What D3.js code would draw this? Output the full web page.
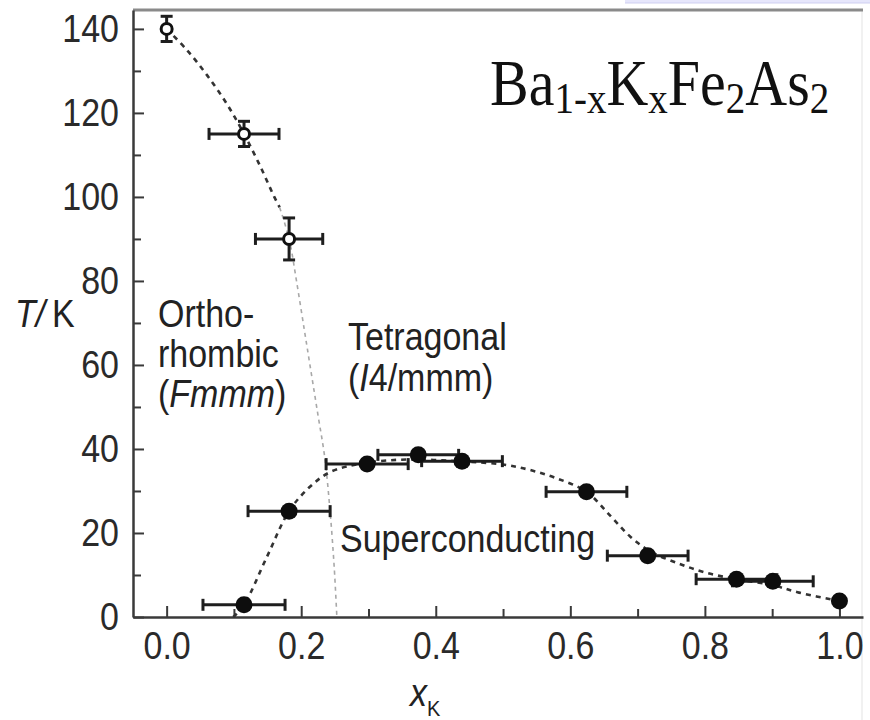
<!DOCTYPE html>
<html>
<head>
<meta charset="utf-8">
<script src="https://cdn.jsdelivr.net/npm/d3@7"></script>
<style>
  body { margin: 0; background: #fff; }
  svg { display: block; }
</style>
</head>
<body>
<script>
// axis ticks
const xTicks = [0, 0.2, 0.4, 0.6, 0.8, 1.0];
const xMinorTicks = [0.1, 0.3, 0.5, 0.7, 0.9];
const yTicks = [0, 20, 40, 60, 80, 100, 120, 140];
const yMinorTicks = [10, 30, 50, 70, 90, 110, 130];

// structural transition (open circles)
const structX = [0, 0.115, 0.182];
const structT = [140, 115, 90];
const structXErr = [0, 0.052, 0.05];
const structTErr = [3, 3, 5];

// superconducting Tc (filled circles)
const scX = [0.115, 0.182, 0.298, 0.374, 0.439, 0.624, 0.715, 0.847, 0.901, 1.0];
const scT = [2.9, 25.2, 36.4, 38.6, 37.1, 29.8, 14.6, 9.0, 8.5, 3.8];
const scXErr = [0.061, 0.061, 0.061, 0.06, 0.06, 0.06, 0.06, 0.06, 0.06, 0];

// dashed guide lines
const upperLineX = [0, 0.03, 0.06, 0.09, 0.115, 0.14, 0.16, 0.168];
const upperLineT = [140, 135, 129, 122, 115, 107, 100, 97.5];
const lowerLineX = [0.168, 0.182, 0.193, 0.205, 0.215, 0.225, 0.235, 0.243, 0.249, 0.253];
const lowerLineT = [97.5, 90, 80, 68, 58, 48, 38, 25, 12, 0];
const domeX = [0.099, 0.115, 0.149, 0.182, 0.213, 0.243, 0.292, 0.36, 0.44, 0.5, 0.54, 0.58, 0.624, 0.66, 0.69, 0.72, 0.76, 0.8, 0.847, 0.9, 0.94, 1.0];
const domeT = [0, 2.9, 14.3, 25.2, 31, 34.5, 36.6, 37.5, 37, 36.3, 35, 33, 29.8, 24, 19, 15.5, 12.8, 10.6, 9, 7.6, 5.8, 3.8];

const w = 870;
const h = 720;
const sans = '"Liberation Sans", Arial, Helvetica, sans-serif';
const serif = '"Liberation Serif", "Times New Roman", serif';
const stretch = 1.12; // the original figure is slightly stretched vertically

const svg = d3.select('body').append('svg').attr('width', w).attr('height', h);

const x = d3.scaleLinear().domain([-0.05, 1.035]).range([133, 863]);
const y = d3.scaleLinear().domain([0, 144.5]).range([617, 10]);

// bits of the screenshot frame
svg.append('rect').attr('x', 625).attr('y', 0).attr('width', 245).attr('height', 3)
  .attr('fill', '#e6e6fb');
svg.append('line').attr('x1', 625).attr('x2', 870).attr('y1', 3).attr('y2', 3)
  .attr('stroke', '#cfcff0').attr('stroke-width', 1);
svg.append('line').attr('x1', 862).attr('x2', 862).attr('y1', 10).attr('y2', h)
  .attr('stroke', '#ececec').attr('stroke-width', 1.5);

// top frame line
svg.append('line')
  .attr('x1', x(-0.05)).attr('x2', x(1.035))
  .attr('y1', y(144.5)).attr('y2', y(144.5))
  .attr('stroke', '#8a8a8a').attr('stroke-width', 3);

// axes
function styleAxis(g) {
  g.select('.domain').attr('stroke', '#3a3a3a').attr('stroke-width', 2.5);
  g.selectAll('.tick line').attr('stroke', '#3a3a3a').attr('stroke-width', 2);
  g.selectAll('text')
    .attr('font-family', sans).attr('font-size', 34).attr('fill', '#2a2a2a')
    .attr('transform', `scale(1,${stretch})`);
}

const gx = svg.append('g').attr('transform', `translate(0,${y(0)})`)
  .call(d3.axisBottom(x).tickValues(xTicks).tickFormat(d3.format('.1f'))
    .tickSizeInner(-11).tickSizeOuter(0).tickPadding(13));
styleAxis(gx);

const gxm = svg.append('g').attr('transform', `translate(0,${y(0)})`)
  .call(d3.axisBottom(x).tickValues(xMinorTicks).tickFormat('').tickSize(-8));
gxm.select('.domain').remove();
styleAxis(gxm);

const gy = svg.append('g').attr('transform', `translate(${x(-0.05)},0)`)
  .call(d3.axisLeft(y).tickValues(yTicks).tickFormat(d3.format('d'))
    .tickSizeInner(-11).tickSizeOuter(0).tickPadding(14));
styleAxis(gy);

const gym = svg.append('g').attr('transform', `translate(${x(-0.05)},0)`)
  .call(d3.axisLeft(y).tickValues(yMinorTicks).tickFormat('').tickSize(-8));
gym.select('.domain').remove();
styleAxis(gym);

// guide lines
const line = d3.line().x((d) => x(d[0])).y((d) => y(d[1])).curve(d3.curveCatmullRom);

svg.append('path')
  .datum(upperLineX.map((d, i) => [d, upperLineT[i]]))
  .attr('d', line).attr('fill', 'none')
  .attr('stroke', '#333').attr('stroke-width', 2.6).attr('stroke-dasharray', '5,5');

svg.append('path')
  .datum(lowerLineX.map((d, i) => [d, lowerLineT[i]]))
  .attr('d', line).attr('fill', 'none')
  .attr('stroke', '#a8a8a8').attr('stroke-width', 1.6).attr('stroke-dasharray', '4,4');

svg.append('path')
  .datum(domeX.map((d, i) => [d, domeT[i]]))
  .attr('d', line).attr('fill', 'none')
  .attr('stroke', '#333').attr('stroke-width', 2.6).attr('stroke-dasharray', '5,5');

// error bars
const cap = 6;
const barColor = '#1e1e1e';

function xErrorBar(xv, tv, err) {
  if (!err) return;
  const g = svg.append('g').attr('stroke', barColor).attr('stroke-width', 3);
  g.append('line').attr('x1', x(xv - err)).attr('x2', x(xv + err)).attr('y1', y(tv)).attr('y2', y(tv));
  [xv - err, xv + err].forEach((v) => {
    g.append('line').attr('x1', x(v)).attr('x2', x(v)).attr('y1', y(tv) - cap).attr('y2', y(tv) + cap);
  });
}

function yErrorBar(xv, tv, err) {
  if (!err) return;
  const g = svg.append('g').attr('stroke', barColor).attr('stroke-width', 3);
  g.append('line').attr('x1', x(xv)).attr('x2', x(xv)).attr('y1', y(tv - err)).attr('y2', y(tv + err));
  [tv - err, tv + err].forEach((v) => {
    g.append('line').attr('x1', x(xv) - cap).attr('x2', x(xv) + cap).attr('y1', y(v)).attr('y2', y(v));
  });
}

structX.forEach((d, i) => {
  xErrorBar(d, structT[i], structXErr[i]);
  yErrorBar(d, structT[i], structTErr[i]);
});
scX.forEach((d, i) => xErrorBar(d, scT[i], scXErr[i]));

// markers
svg.selectAll('.open')
  .data(structX)
  .enter()
  .append('circle')
  .attr('class', 'open')
  .attr('cx', (d) => x(d))
  .attr('cy', (d, i) => y(structT[i]))
  .attr('r', 5.5)
  .attr('fill', '#fff')
  .attr('stroke', '#111')
  .attr('stroke-width', 3);

svg.selectAll('.filled')
  .data(scX)
  .enter()
  .append('circle')
  .attr('class', 'filled')
  .attr('cx', (d) => x(d))
  .attr('cy', (d, i) => y(scT[i]))
  .attr('r', 8.5)
  .attr('fill', '#0d0d0d');

// text labels
function label(px, py, parts, family, size) {
  const t = svg.append('text')
    .attr('transform', `translate(${px},${py}) scale(1,${stretch})`)
    .attr('font-family', family)
    .attr('font-size', size)
    .attr('fill', '#222');
  parts.forEach((p) => {
    const s = t.append('tspan').text(p.t);
    if (p.i) s.attr('font-style', 'italic');
    if (p.s) s.attr('font-size', p.s);
    if (p.dy) s.attr('dy', p.dy);
  });
  return t;
}

label(490, 105, [
  { t: 'Ba' }, { t: '1-x', s: 39, dy: 7 }, { t: 'K', dy: -7 }, { t: 'x', s: 39, dy: 7 },
  { t: 'Fe', dy: -7 }, { t: '2', s: 39, dy: 7 }, { t: 'As', dy: -7 }, { t: '2', s: 39, dy: 7 },
], serif, 58).attr('fill', '#111');

label(15, 327, [{ t: 'T', i: true }, { t: '/', i: true }, { t: '\u2009K' }], sans, 34);

label(158, 327, [{ t: 'Ortho-' }], sans, 34);
label(158, 367, [{ t: 'rhombic' }], sans, 34);
label(158, 407, [{ t: '(' }, { t: 'Fmmm', i: true }, { t: ')' }], sans, 34);

label(348, 350, [{ t: 'Tetragonal' }], sans, 34);
label(348, 391, [{ t: '(' }, { t: 'I', i: true }, { t: '4/mmm)' }], sans, 34);

label(340, 552, [{ t: 'Superconducting' }], sans, 34);

label(410, 706, [{ t: 'x', i: true }, { t: 'K', s: 20, dy: 9 }], sans, 34);
</script>
</body>
</html>
